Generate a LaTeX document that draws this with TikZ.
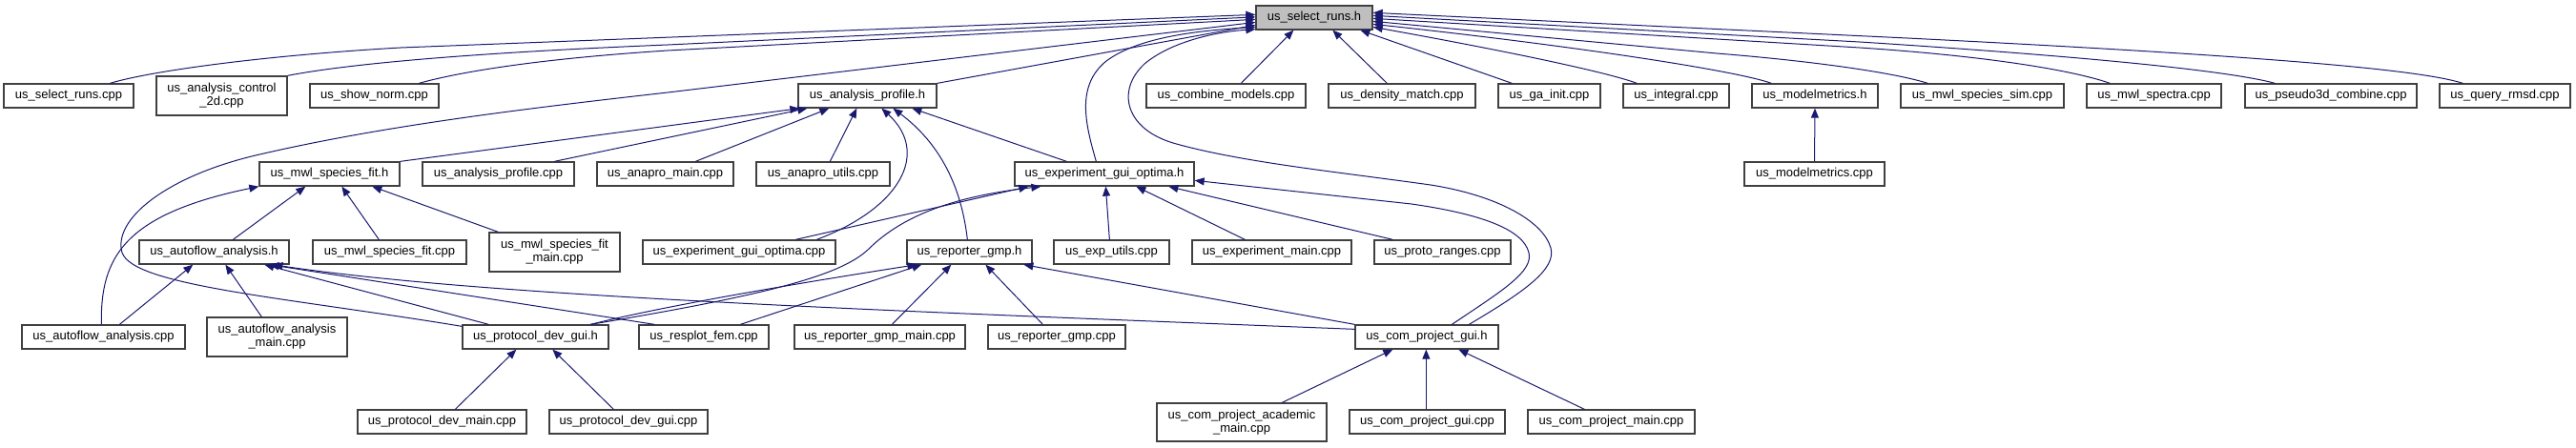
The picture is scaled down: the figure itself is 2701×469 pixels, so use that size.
\documentclass[tikz,border=0pt]{standalone}
\usepackage{fontspec}
\setmainfont{Liberation Sans}
\usetikzlibrary{arrows.meta,calc}
\definecolor{mblue}{RGB}{25,25,112}
\definecolor{nborder}{RGB}{64,64,64}
\definecolor{rootfill}{RGB}{191,191,191}
\newcommand{\dnode}[6]{\node[gbox, minimum width={(#4-#2)*1pt}, minimum height={(#5-#3)*1pt}] (#1) at ({(#2+#4)/2},{(#3+#5)/2}) {#6};}
\begin{document}
\begin{tikzpicture}[x=1pt,y=-1pt,
  gbox/.style={draw=nborder, line width=1.3pt, fill=white, inner sep=0pt, align=center, text=black, font=\fontsize{13}{14}\selectfont},
  dep/.style={draw=mblue, line width=1pt, -{Triangle[length=10pt,width=8pt]}}]
\useasboundingbox (0,0) rectangle (2701,469);
% row 1
\node[gbox, fill=rootfill, minimum width=122pt, minimum height=25pt] (R) at (1378,18.5) {us\_select\_runs.h};
% row 2
\dnode{srcpp}{4}{88}{140}{113}{us\_select\_runs.cpp}
\dnode{acd}{164}{80}{301}{121}{us\_analysis\_control\\\_2d.cpp}
\dnode{shownorm}{325}{88}{460}{113}{us\_show\_norm.cpp}
\dnode{aph}{837}{88}{982}{113}{us\_analysis\_profile.h}
\dnode{combine}{1202}{88}{1369}{113}{us\_combine\_models.cpp}
\dnode{density}{1393}{88}{1547}{113}{us\_density\_match.cpp}
\dnode{gainit}{1571}{88}{1678}{113}{us\_ga\_init.cpp}
\dnode{integral}{1702}{88}{1813}{113}{us\_integral.cpp}
\dnode{mmh}{1837}{88}{1969}{113}{us\_modelmetrics.h}
\dnode{mwlsim}{1993}{88}{2164}{113}{us\_mwl\_species\_sim.cpp}
\dnode{mwlspec}{2188}{88}{2329}{113}{us\_mwl\_spectra.cpp}
\dnode{pseudo}{2354}{88}{2534}{113}{us\_pseudo3d\_combine.cpp}
\dnode{query}{2558}{88}{2695}{113}{us\_query\_rmsd.cpp}
% row 3
\dnode{msfh}{272}{170}{419}{195}{us\_mwl\_species\_fit.h}
\dnode{apcpp}{443}{170}{602}{195}{us\_analysis\_profile.cpp}
\dnode{anamain}{626}{170}{769}{195}{us\_anapro\_main.cpp}
\dnode{anautils}{793}{170}{933}{195}{us\_anapro\_utils.cpp}
\dnode{egoh}{1064}{170}{1252}{195}{us\_experiment\_gui\_optima.h}
\dnode{mmcpp}{1829}{170}{1976}{195}{us\_modelmetrics.cpp}
% row 4
\dnode{afah}{146}{252}{303}{277}{us\_autoflow\_analysis.h}
\dnode{msfcpp}{328}{252}{489}{277}{us\_mwl\_species\_fit.cpp}
\dnode{msfmain}{513}{244}{650}{285}{us\_mwl\_species\_fit\\\_main.cpp}
\dnode{egocpp}{674}{252}{876}{277}{us\_experiment\_gui\_optima.cpp}
\dnode{rgh}{951}{252}{1082}{277}{us\_reporter\_gmp.h}
\dnode{exputils}{1105}{252}{1226}{277}{us\_exp\_utils.cpp}
\dnode{expmain}{1250}{252}{1417}{277}{us\_experiment\_main.cpp}
\dnode{pranges}{1441}{252}{1584}{277}{us\_proto\_ranges.cpp}
% row 5
\dnode{afacpp}{23}{341}{194}{366}{us\_autoflow\_analysis.cpp}
\dnode{afamain}{217}{333}{364}{374}{us\_autoflow\_analysis\\\_main.cpp}
\dnode{pdgh}{485}{341}{638}{366}{us\_protocol\_dev\_gui.h}
\dnode{resplot}{670}{341}{806}{366}{us\_resplot\_fem.cpp}
\dnode{rgmain}{833}{341}{1012}{366}{us\_reporter\_gmp\_main.cpp}
\dnode{rgcpp}{1036}{341}{1180}{366}{us\_reporter\_gmp.cpp}
\dnode{cpgh}{1421}{341}{1571}{366}{us\_com\_project\_gui.h}
% row 6
\dnode{pdmain}{375}{430}{552}{455}{us\_protocol\_dev\_main.cpp}
\dnode{pdcpp}{576}{430}{742}{455}{us\_protocol\_dev\_gui.cpp}
\dnode{cpacad}{1213}{423}{1391}{463}{us\_com\_project\_academic\\\_main.cpp}
\dnode{cpguicpp}{1415}{430}{1578}{455}{us\_com\_project\_gui.cpp}
\dnode{cpmain}{1602}{430}{1777}{455}{us\_com\_project\_main.cpp}

% ---- edges to R (left side)
\draw[dep] ($(srcpp.north west)+(112,0)$) .. controls (160,74) and (280,58) .. (420,50) -- ($(R.north west)+(0,10)$);
\draw[dep] (acd.north east) .. controls (360,68) and (480,56) .. (700,47) -- ($(R.north west)+(0,12.5)$);
\draw[dep] ($(shownorm.north west)+(115,0)$) .. controls (480,76) and (560,62) .. (700,53) -- ($(R.north west)+(0,15)$);
\draw[dep] ($(pdgh.north west)+(0,2)$) .. controls (300,312) and (140,300) .. (128,265) .. controls (118,230) and (175,185) .. (268,163) .. controls (400,132) and (550,114) .. (700,97) -- ($(R.north west)+(0,18)$);
\draw[dep] (aph.north east) -- ($(R.north west)+(0,21)$);
\draw[dep] ($(egoh.north west)+(86,0)$) .. controls (1138,130) and (1128,90) .. (1160,64) .. controls (1195,38) and (1260,32) .. ($(R.north west)+(0,23)$);
\draw[dep] ($(cpgh.north west)+(120,0)$) .. controls (1600,305) and (1632,282) .. (1626,260) .. controls (1618,232) and (1570,205) .. (1500,194) .. controls (1400,180) and (1300,170) .. (1230,150) .. controls (1180,135) and (1170,95) .. (1200,67) .. controls (1230,42) and (1280,33) .. ($(R.south west)+(0,-1)$);
% bottom
\draw[dep] ($(combine.north west)+(100,0)$) -- ($(R.south west)+(40,0)$);
\draw[dep] ($(density.north west)+(62,0)$) -- ($(R.south west)+(81,0)$);
\draw[dep] ($(gainit.north west)+(15,0)$) -- ($(R.south west)+(110,0)$);
% right side
\draw[dep] ($(integral.north west)+(15,0)$) .. controls (1680,74) and (1560,50) .. ($(R.north east)+(0,23)$);
\draw[dep] ($(mmh.north west)+(21,0)$) .. controls (1820,74) and (1650,48) .. ($(R.north east)+(0,20)$);
\draw[dep] ($(mwlsim.north west)+(29,0)$) .. controls (1985,76) and (1900,64) .. (1800,56) -- ($(R.north east)+(0,17)$);
\draw[dep] ($(mwlspec.north west)+(25,0)$) .. controls (2180,76) and (2100,60) .. (1950,50) -- ($(R.north east)+(0,14)$);
\draw[dep] ($(pseudo.north west)+(32,0)$) .. controls (2340,75) and (2200,60) .. (1950,44) -- ($(R.north east)+(0,11)$);
\draw[dep] ($(query.north west)+(25,0)$) .. controls (2540,74) and (2400,60) .. (2000,40) -- ($(R.north east)+(0,8)$);

% ---- edges to us_analysis_profile.h
\draw[dep] (msfh.north east) -- ($(aph.south west)+(2,0)$);
\draw[dep] ($(apcpp.north west)+(139,0)$) -- ($(aph.south west)+(10,0)$);
\draw[dep] ($(anamain.north west)+(104,0)$) -- ($(aph.south west)+(33,0)$);
\draw[dep] ($(anautils.north west)+(78,0)$) -- ($(aph.south west)+(62,0)$);
\draw[dep] ($(egocpp.north west)+(183,0)$) .. controls (945,218) and (975,160) .. ($(aph.south west)+(88,0)$);
\draw[dep] ($(rgh.north west)+(64,0)$) .. controls (1008,195) and (985,150) .. ($(aph.south west)+(100,0)$);
\draw[dep] ($(egoh.north west)+(55,0)$) -- ($(aph.south west)+(120,0)$);

% ---- edges to us_mwl_species_fit.h
\draw[dep] ($(afacpp.north west)+(84,0)$) .. controls (105,270) and (130,225) .. (msfh.south west);
\draw[dep] ($(afah.north west)+(99,0)$) -- ($(msfh.south west)+(49,0)$);
\draw[dep] ($(msfcpp.north west)+(70,0)$) -- ($(msfh.south west)+(87,0)$);
\draw[dep] ($(msfmain.north west)+(10,0)$) -- ($(msfh.south west)+(119,0)$);

% ---- edges to us_autoflow_analysis.h
\draw[dep] ($(afacpp.north west)+(103,0)$) -- ($(afah.south west)+(57,0)$);
\draw[dep] ($(afamain.north west)+(58,0)$) -- ($(afah.south west)+(91,0)$);
\draw[dep] ($(pdgh.north west)+(28,0)$) -- ($(afah.south west)+(132,0)$);
\draw[dep] ($(resplot.north west)+(17,0)$) -- ($(afah.south west)+(137,0)$);
\draw[dep] ($(cpgh.north west)+(0,5)$) .. controls (900,325) and (500,310) .. ($(afah.south west)+(141,0)$);

% ---- edges to us_protocol_dev_gui.h
\draw[dep] ($(pdmain.north west)+(103,0)$) -- ($(pdgh.south west)+(57,0)$);
\draw[dep] ($(pdcpp.north west)+(68,0)$) -- ($(pdgh.south west)+(95,0)$);

% ---- edges to us_reporter_gmp.h
\draw[dep] ($(pdgh.north west)+(135,0)$) .. controls (700,320) and (850,295) .. ($(rgh.south west)+(11,0)$);
\draw[dep] ($(resplot.north west)+(107,0)$) -- ($(rgh.south west)+(16,0)$);
\draw[dep] ($(rgmain.north west)+(103,0)$) -- ($(rgh.south west)+(47,0)$);
\draw[dep] ($(rgcpp.north west)+(58,0)$) -- ($(rgh.south west)+(83,0)$);
\draw[dep] (cpgh.north west) -- ($(rgh.south west)+(123,0)$);

% ---- edges to us_experiment_gui_optima.h
\draw[dep] ($(egocpp.north west)+(161,0)$) -- ($(egoh.south west)+(15,0)$);
\draw[dep] ($(pdgh.north west)+(135,0)$) .. controls (800,310) and (880,290) .. (910,262) .. controls (950,222) and (1010,205) .. ($(egoh.south west)+(28,0)$);
\draw[dep] ($(exputils.north west)+(59,0)$) -- ($(egoh.south west)+(96,0)$);
\draw[dep] ($(expmain.north west)+(56,0)$) -- ($(egoh.south west)+(128,0)$);
\draw[dep] ($(pranges.north west)+(20,0)$) -- ($(egoh.south west)+(162,0)$);
\draw[dep] ($(cpgh.north west)+(102,0)$) .. controls (1575,305) and (1608,285) .. (1603,265) .. controls (1597,240) and (1550,224) .. (1480,214) -- ($(egoh.north east)+(0,20)$);

% ---- edges to us_com_project_gui.h
\draw[dep] ($(cpacad.north west)+(132,0)$) -- ($(cpgh.south west)+(40,0)$);
\draw[dep] ($(cpguicpp.north west)+(81,0)$) -- ($(cpgh.south west)+(75,0)$);
\draw[dep] ($(cpmain.north west)+(60,0)$) -- ($(cpgh.south west)+(109,0)$);

% ---- us_modelmetrics
\draw[dep] (mmcpp.north) -- (mmh.south);
\end{tikzpicture}
\end{document}
